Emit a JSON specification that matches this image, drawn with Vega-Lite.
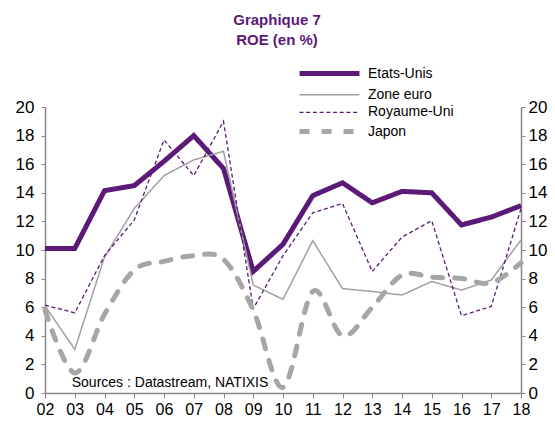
{
  "$schema": "https://vega.github.io/schema/vega-lite/v6.json",
  "width": 476,
  "height": 286,
  "autosize": {"type": "none"},
  "padding": {"left": 45, "top": 107, "right": 34, "bottom": 29},
  "config": {"view": {"stroke": null}, "font": "Liberation Sans"},
  "title": {
    "text": ["Graphique 7", "ROE (en %)"],
    "color": "#5b1a78",
    "fontSize": 15,
    "fontWeight": "bold",
    "font": "Liberation Sans",
    "anchor": "middle",
    "offset": 14,
    "lineHeight": 20,
    "dx": -6
  },
  "datasets": {
    "roe": [
      {"year": "02", "s": "Etats-Unis", "v": 10.1},
      {"year": "03", "s": "Etats-Unis", "v": 10.1},
      {"year": "04", "s": "Etats-Unis", "v": 14.15},
      {"year": "05", "s": "Etats-Unis", "v": 14.5},
      {"year": "06", "s": "Etats-Unis", "v": 16.2},
      {"year": "07", "s": "Etats-Unis", "v": 18.0},
      {"year": "08", "s": "Etats-Unis", "v": 15.7},
      {"year": "09", "s": "Etats-Unis", "v": 8.5},
      {"year": "10", "s": "Etats-Unis", "v": 10.4},
      {"year": "11", "s": "Etats-Unis", "v": 13.8},
      {"year": "12", "s": "Etats-Unis", "v": 14.7},
      {"year": "13", "s": "Etats-Unis", "v": 13.3},
      {"year": "14", "s": "Etats-Unis", "v": 14.1},
      {"year": "15", "s": "Etats-Unis", "v": 14.0},
      {"year": "16", "s": "Etats-Unis", "v": 11.75},
      {"year": "17", "s": "Etats-Unis", "v": 12.3},
      {"year": "18", "s": "Etats-Unis", "v": 13.1},
      {"year": "02", "s": "Zone euro", "v": 6.1},
      {"year": "03", "s": "Zone euro", "v": 3.05},
      {"year": "04", "s": "Zone euro", "v": 9.5},
      {"year": "05", "s": "Zone euro", "v": 12.9},
      {"year": "06", "s": "Zone euro", "v": 15.2},
      {"year": "07", "s": "Zone euro", "v": 16.3},
      {"year": "08", "s": "Zone euro", "v": 16.9},
      {"year": "09", "s": "Zone euro", "v": 7.55},
      {"year": "10", "s": "Zone euro", "v": 6.55},
      {"year": "11", "s": "Zone euro", "v": 10.65},
      {"year": "12", "s": "Zone euro", "v": 7.3},
      {"year": "13", "s": "Zone euro", "v": 7.1},
      {"year": "14", "s": "Zone euro", "v": 6.85},
      {"year": "15", "s": "Zone euro", "v": 7.8},
      {"year": "16", "s": "Zone euro", "v": 7.2},
      {"year": "17", "s": "Zone euro", "v": 7.9},
      {"year": "18", "s": "Zone euro", "v": 10.7},
      {"year": "02", "s": "Royaume-Uni", "v": 6.15},
      {"year": "03", "s": "Royaume-Uni", "v": 5.6},
      {"year": "04", "s": "Royaume-Uni", "v": 9.6},
      {"year": "05", "s": "Royaume-Uni", "v": 12.1},
      {"year": "06", "s": "Royaume-Uni", "v": 17.7},
      {"year": "07", "s": "Royaume-Uni", "v": 15.2},
      {"year": "08", "s": "Royaume-Uni", "v": 19.0},
      {"year": "09", "s": "Royaume-Uni", "v": 5.9},
      {"year": "10", "s": "Royaume-Uni", "v": 9.6},
      {"year": "11", "s": "Royaume-Uni", "v": 12.6},
      {"year": "12", "s": "Royaume-Uni", "v": 13.25},
      {"year": "13", "s": "Royaume-Uni", "v": 8.5},
      {"year": "14", "s": "Royaume-Uni", "v": 10.9},
      {"year": "15", "s": "Royaume-Uni", "v": 12.05},
      {"year": "16", "s": "Royaume-Uni", "v": 5.4},
      {"year": "17", "s": "Royaume-Uni", "v": 6.05},
      {"year": "18", "s": "Royaume-Uni", "v": 12.9},
      {"year": "02", "s": "Japon", "v": 5.8},
      {"year": "03", "s": "Japon", "v": 1.4},
      {"year": "04", "s": "Japon", "v": 5.5},
      {"year": "05", "s": "Japon", "v": 8.6},
      {"year": "06", "s": "Japon", "v": 9.2},
      {"year": "07", "s": "Japon", "v": 9.6},
      {"year": "08", "s": "Japon", "v": 9.35},
      {"year": "09", "s": "Japon", "v": 5.8},
      {"year": "10", "s": "Japon", "v": 0.4},
      {"year": "11", "s": "Japon", "v": 7.1},
      {"year": "12", "s": "Japon", "v": 4.0},
      {"year": "13", "s": "Japon", "v": 6.0},
      {"year": "14", "s": "Japon", "v": 8.25},
      {"year": "15", "s": "Japon", "v": 8.1},
      {"year": "16", "s": "Japon", "v": 8.0},
      {"year": "17", "s": "Japon", "v": 7.7},
      {"year": "18", "s": "Japon", "v": 9.1}
    ]
  },
  "data": {"name": "roe"},
  "layer": [
    {
      "transform": [{"filter": "datum.s !== 'Japon'"}],
      "mark": {"type": "line", "interpolate": "linear"},
      "encoding": {
        "x": {
          "field": "year", "type": "ordinal", "sort": null,
          "scale": {"type": "point", "padding": 0},
          "axis": {"title": null, "labelAngle": 0, "labelFontSize": 16, "labelColor": "#000", "domainColor": "#888", "tickColor": "#888", "tickSize": 5, "labelPadding": 3, "grid": false, "domainWidth": 1.5}
        },
        "y": {
          "field": "v", "type": "quantitative",
          "scale": {"domain": [0, 20]},
          "axis": {"orient": "left", "title": null, "values": [0, 2, 4, 6, 8, 10, 12, 14, 16, 18, 20], "labelFontSize": 17, "labelColor": "#000", "domainColor": "#888", "tickColor": "#888", "tickSize": 4, "labelPadding": 7, "grid": false, "domainWidth": 1.5}
        },
        "color": {
          "field": "s", "type": "nominal",
          "scale": {"domain": ["Etats-Unis", "Zone euro", "Royaume-Uni", "Japon"], "range": ["#5b1a78", "#a0a0a0", "#5b1a78", "#a6a6a6"]},
          "legend": {"orient": "none", "legendX": 273, "legendY": -45, "title": null, "symbolType": "M-3.33,0H3.33", "symbolSize": 324, "labelFontSize": 14, "labelColor": "#000", "rowPadding": 0.7, "labelOffset": 27}
        },
        "strokeDash": {
          "field": "s", "type": "nominal",
          "scale": {"domain": ["Etats-Unis", "Zone euro", "Royaume-Uni", "Japon"], "range": [[1, 0], [1, 0], [4, 2.7], [10, 12]]},
          "legend": {"orient": "none", "legendX": 273, "legendY": -45, "title": null, "symbolType": "M-3.33,0H3.33", "symbolSize": 324, "labelFontSize": 14, "labelColor": "#000", "rowPadding": 0.7, "labelOffset": 27}
        },
        "strokeWidth": {
          "field": "s", "type": "nominal",
          "scale": {"type": "ordinal", "domain": ["Etats-Unis", "Zone euro", "Royaume-Uni", "Japon"], "range": [5, 1.5, 1.3, 5]},
          "legend": {"orient": "none", "legendX": 273, "legendY": -45, "title": null, "symbolType": "M-3.33,0H3.33", "symbolSize": 324, "labelFontSize": 14, "labelColor": "#000", "rowPadding": 0.7, "labelOffset": 27}
        }
      }
    },
    {
      "transform": [{"filter": "datum.s === 'Japon'"}],
      "mark": {"type": "line", "interpolate": "cardinal", "strokeCap": "round"},
      "encoding": {
        "x": {"field": "year", "type": "ordinal", "sort": null},
        "y": {
          "field": "v", "type": "quantitative",
          "scale": {"domain": [0, 20]},
          "axis": {"orient": "right", "title": null, "values": [0, 2, 4, 6, 8, 10, 12, 14, 16, 18, 20], "labelFontSize": 17, "labelColor": "#000", "domainColor": "#888", "tickColor": "#888", "tickSize": 4, "labelPadding": 3, "grid": false, "domainWidth": 1.5}
        },
        "color": {"field": "s", "type": "nominal", "scale": {"domain": ["Etats-Unis", "Zone euro", "Royaume-Uni", "Japon"], "range": ["#5b1a78", "#a0a0a0", "#5b1a78", "#a6a6a6"]}},
        "strokeDash": {"field": "s", "type": "nominal", "scale": {"domain": ["Etats-Unis", "Zone euro", "Royaume-Uni", "Japon"], "range": [[1, 0], [1, 0], [4, 2.7], [10, 12]]}},
        "strokeWidth": {"field": "s", "type": "nominal", "scale": {"type": "ordinal", "domain": ["Etats-Unis", "Zone euro", "Royaume-Uni", "Japon"], "range": [5, 1.5, 1.3, 5]}}
      }
    },
    {
      "data": {"values": [{"t": "Sources  : Datastream,  NATIXIS"}]},
      "mark": {"type": "text", "align": "left", "baseline": "middle", "fontSize": 14, "dx": -3, "color": "#000"},
      "encoding": {
        "x": {"datum": "03", "type": "ordinal"},
        "y": {"datum": 0.72, "type": "quantitative", "axis": null},
        "text": {"field": "t"}
      }
    }
  ],
  "resolve": {"axis": {"y": "independent"}}
}
